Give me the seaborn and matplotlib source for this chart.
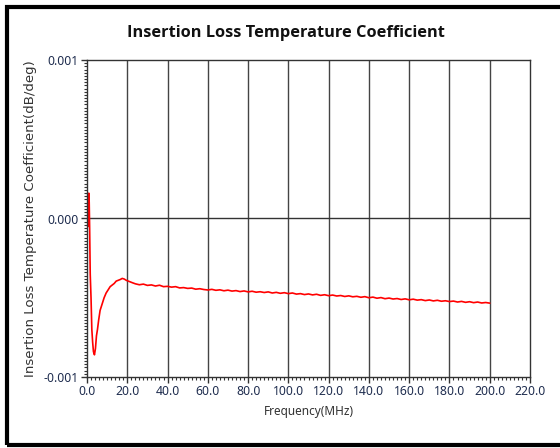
import numpy as np
import pandas as pd
import matplotlib
matplotlib.use("Agg")
import matplotlib.pyplot as plt
import seaborn as sns
from matplotlib.ticker import MultipleLocator, FixedLocator
from matplotlib.patches import Rectangle

# Values (coefficient in units of 1e-3 dB/deg)
freq_mhz = [0.6, 0.9, 1.1, 1.3, 1.6, 2.0, 2.4, 2.8, 3.2, 3.7, 4.2, 4.7, 5.2, 5.8,
            6.5, 7.5, 8.5, 9.5, 10.5, 11.5, 12.5, 13.5, 14.5, 15.5, 16.5, 17.5,
            18.5, 19.5, 20.5, 21.5, 22.5,
            24, 26, 28, 30, 32, 34, 36, 38, 40, 42, 44, 46, 48, 50, 52, 54, 56, 58,
            60, 62, 64, 66, 68, 70, 72, 74, 76, 78, 80, 82, 84, 86, 88, 90, 92, 94,
            96, 98, 100, 102, 104, 106, 108, 110, 112, 114, 116, 118, 120, 122, 124,
            126, 128, 130, 132, 134, 136, 138, 140, 142, 144, 146, 148, 150, 152,
            154, 156, 158, 160, 162, 164, 166, 168, 170, 172, 174, 176, 178, 180,
            182, 184, 186, 188, 190, 192, 194, 196, 198, 200]
coef_milli = [-0.05, 0.16, 0.10, -0.05, -0.35, -0.50, -0.70, -0.78, -0.84, -0.86,
              -0.82, -0.74, -0.70, -0.64, -0.58, -0.54, -0.50, -0.47, -0.45, -0.43,
              -0.42, -0.41, -0.395, -0.39, -0.385, -0.378, -0.382, -0.39, -0.395,
              -0.40, -0.405,
              -0.412, -0.418, -0.414, -0.422, -0.419, -0.426, -0.421, -0.430, -0.428,
              -0.433, -0.430, -0.438, -0.436, -0.441, -0.439, -0.446, -0.443, -0.448,
              -0.451, -0.447, -0.453, -0.450, -0.456, -0.452, -0.458, -0.455, -0.461,
              -0.457, -0.463, -0.459, -0.465, -0.462, -0.467, -0.463, -0.470, -0.466,
              -0.472, -0.468, -0.474, -0.470, -0.477, -0.474, -0.480, -0.476, -0.482,
              -0.478, -0.485, -0.481, -0.487, -0.483, -0.489, -0.486, -0.492, -0.488,
              -0.494, -0.491, -0.497, -0.493, -0.500, -0.496, -0.503, -0.499, -0.506,
              -0.502, -0.508, -0.505, -0.511, -0.507, -0.513, -0.509, -0.515, -0.512,
              -0.518, -0.514, -0.520, -0.516, -0.522, -0.519, -0.524, -0.521, -0.527,
              -0.523, -0.529, -0.525, -0.531, -0.527, -0.533, -0.530, -0.534]

x_ticks = [0, 20, 40, 60, 80, 100, 120, 140, 160, 180, 200, 220]
y_ticks = [-0.001, 0.0, 0.001]
y_ticklabels = ["-0.001", "0.000", "0.001"]

df = pd.DataFrame({"freq": freq_mhz, "coef": np.array(coef_milli) * 1e-3})

sns.set_style("white")
plt.rcParams["font.family"] = ["Noto Sans", "DejaVu Sans"]

fig = plt.figure(figsize=(5.6, 4.48), dpi=100)
ax = fig.add_axes([87 / 560, 1 - 377 / 448, (530 - 87) / 560, (377 - 60) / 448])

sns.lineplot(data=df, x="freq", y="coef", color="#ff0000", linewidth=1.2, ax=ax)

ax.set_xlim(0, 220)
ax.set_ylim(-0.001, 0.001)
ax.xaxis.set_major_locator(FixedLocator(x_ticks))
ax.xaxis.set_minor_locator(MultipleLocator(2))
ax.yaxis.set_major_locator(FixedLocator(y_ticks))
ax.yaxis.set_minor_locator(MultipleLocator(0.00002))
ax.set_xticklabels([f"{v:.1f}" for v in x_ticks])
ax.set_yticklabels(y_ticklabels)

ax.tick_params(axis="both", which="major", direction="out", length=4, width=1,
               colors="#333333", labelcolor="#1f2d4f", labelsize=8.8, pad=2)
ax.tick_params(axis="both", which="minor", direction="out", length=2.5, width=0.8,
               colors="#333333")
ax.tick_params(axis="x", which="both", bottom=True, top=False)
ax.tick_params(axis="y", which="both", left=True, right=False)

# grid: vertical at major x ticks, horizontal at zero
for xv in x_ticks[1:-1]:
    ax.axvline(xv, color="#444444", linewidth=1.0, zorder=0)
ax.axhline(0, color="#333333", linewidth=1.0, zorder=0)

for side in ["left", "bottom", "top", "right"]:
    ax.spines[side].set_visible(True)
    ax.spines[side].set_color("#333333")
    ax.spines[side].set_linewidth(1.0)

ax.set_xlabel("Frequency(MHz)", fontsize=8.5, color="#333333", labelpad=5)
ax.set_ylabel("Insertion Loss Temperature Coefficient(dB/deg)", fontsize=9.6,
              color="#333333", labelpad=5, family=["DejaVu Sans"])

fig.text(286 / 560, 1 - 33 / 448, "Insertion Loss Temperature Coefficient",
         ha="center", va="center", fontsize=11.8, fontweight="bold",
         family=["Open Sans", "DejaVu Sans"], color="#111111")

# outer frame
fig.patches.append(Rectangle((7 / 560, 1 - 445 / 448), 1.1, (445 - 7) / 448,
                             transform=fig.transFigure, fill=False,
                             edgecolor="#000000", linewidth=3, zorder=10))

fig.savefig("out.png", dpi=100)
